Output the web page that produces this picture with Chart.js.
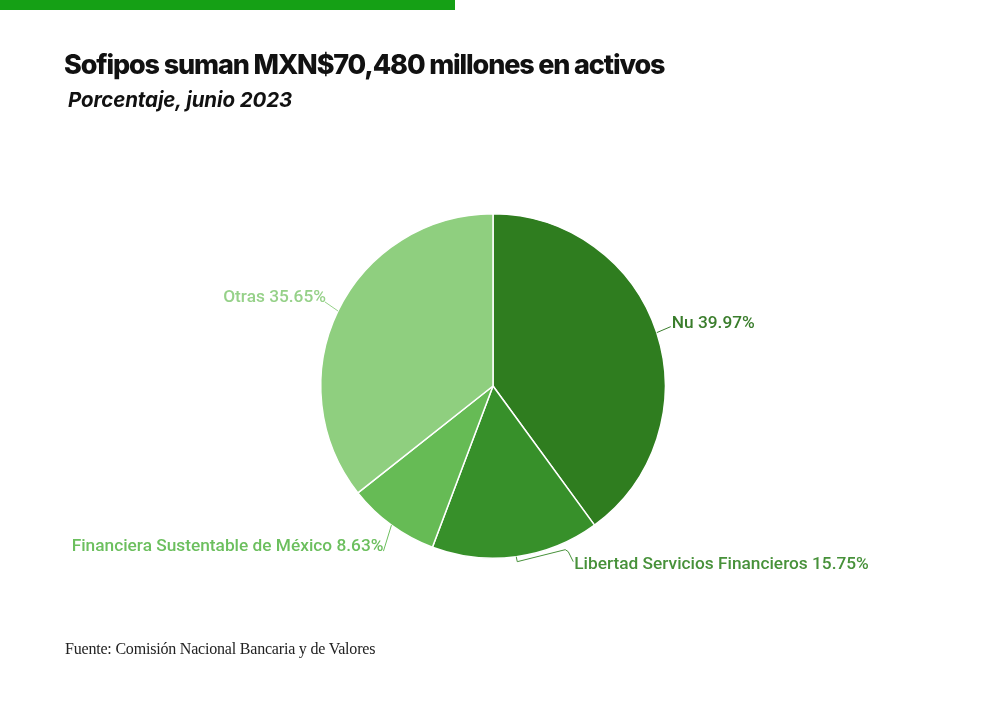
<!DOCTYPE html>
<html>
<head>
<meta charset="utf-8">
<script src="https://cdn.jsdelivr.net/npm/chart.js@4"></script>
<style>
  html, body { margin: 0; padding: 0; background: #fff; }
  body { width: 1000px; height: 701px; position: relative; overflow: hidden; }
  #bar { position: absolute; left: 0; top: 0; width: 455px; height: 10px; background: #15a015; }
  #title { position: absolute; left: 64px; top: 48px; font: 800 27px Inter, sans-serif; letter-spacing: -1.15px; color: #111; white-space: nowrap; }
  #subtitle { position: absolute; left: 68px; top: 87px; font: italic 700 20.5px Inter, sans-serif; letter-spacing: -0.1px; color: #111; white-space: nowrap; }
  #source { position: absolute; left: 65px; top: 640px; font: 16px "Liberation Serif", serif; letter-spacing: -0.2px; color: #222; white-space: nowrap; }
  #wrap { position: absolute; left: 0; top: 0; width: 1000px; height: 701px; }
</style>
</head>
<body>
<div id="bar"></div>
<div id="wrap"><canvas id="chart"></canvas></div>
<div id="title">Sofipos suman MXN$70,480 millones en activos</div>
<div id="subtitle">Porcentaje, junio 2023</div>
<div id="source">Fuente: Comisión Nacional Bancaria y de Valores</div>
<script>
'use strict';

// data (percent of total assets, June 2023)
const categories = ['Nu', 'Libertad Servicios Financieros', 'Financiera Sustentable de México', 'Otras'];
const shares = [39.97, 15.75, 8.63, 35.65];

const sliceColors = ['#2f7d1f', '#37902a', '#66bb55', '#8fcf7f'];
const labelColors = ['#3a7d2c', '#47913a', '#6cbf5e', '#96d189'];

// leader line bends relative to the slice's outer mid point, and text side
const callouts = [
  { path: [[14, -6]], align: 'left', dx: 1, dy: -3 },
  { path: [[1, 5], [49, -7], [52, -5], [57, 5]], align: 'left', dx: 1, dy: 3 },
  { path: [[-8, 26]], align: 'right', dx: 0, dy: -4 },
  { path: [[-13, -9]], align: 'right', dx: 1, dy: -4 }
];

const calloutPlugin = {
  id: 'callouts',
  afterDatasetsDraw(chart) {
    let ctx = chart.ctx;
    let meta = chart.getDatasetMeta(0);
    ctx.save();
    ctx.font = '500 17.3px Roboto';
    ctx.textBaseline = 'middle';
    meta.data.forEach((arc, i) => {
      let mid = (arc.startAngle + arc.endAngle) / 2;
      let ex = arc.x + Math.cos(mid) * arc.outerRadius;
      let ey = arc.y + Math.sin(mid) * arc.outerRadius;
      let c = callouts[i];
      ctx.strokeStyle = labelColors[i];
      ctx.lineWidth = 1;
      ctx.beginPath();
      ctx.moveTo(ex, ey);
      let px = ex, py = ey;
      c.path.forEach(p => {
        px = ex + p[0];
        py = ey + p[1];
        ctx.lineTo(px, py);
      });
      ctx.stroke();
      ctx.fillStyle = labelColors[i];
      ctx.textAlign = c.align;
      ctx.fillText(categories[i] + ' ' + shares[i].toFixed(2) + '%', px + c.dx, py + c.dy);
    });
    ctx.restore();
  }
};

function renderChart() {
  let canvasElem = document.getElementById('chart');
  let data = {
    labels: categories,
    datasets: [{
      data: shares,
      backgroundColor: sliceColors,
      borderColor: '#ffffff',
      borderWidth: 1.5
    }]
  };
  let options = {
    responsive: true,
    maintainAspectRatio: false,
    animation: false,
    layout: { padding: { left: 320, right: 334, top: 213, bottom: 142 } },
    plugins: {
      legend: { display: false },
      tooltip: { enabled: false }
    }
  };
  new Chart(canvasElem.getContext('2d'), {
    type: 'pie',
    data: data,
    options: options,
    plugins: [calloutPlugin]
  });
}

renderChart();
</script>
</body>
</html>
